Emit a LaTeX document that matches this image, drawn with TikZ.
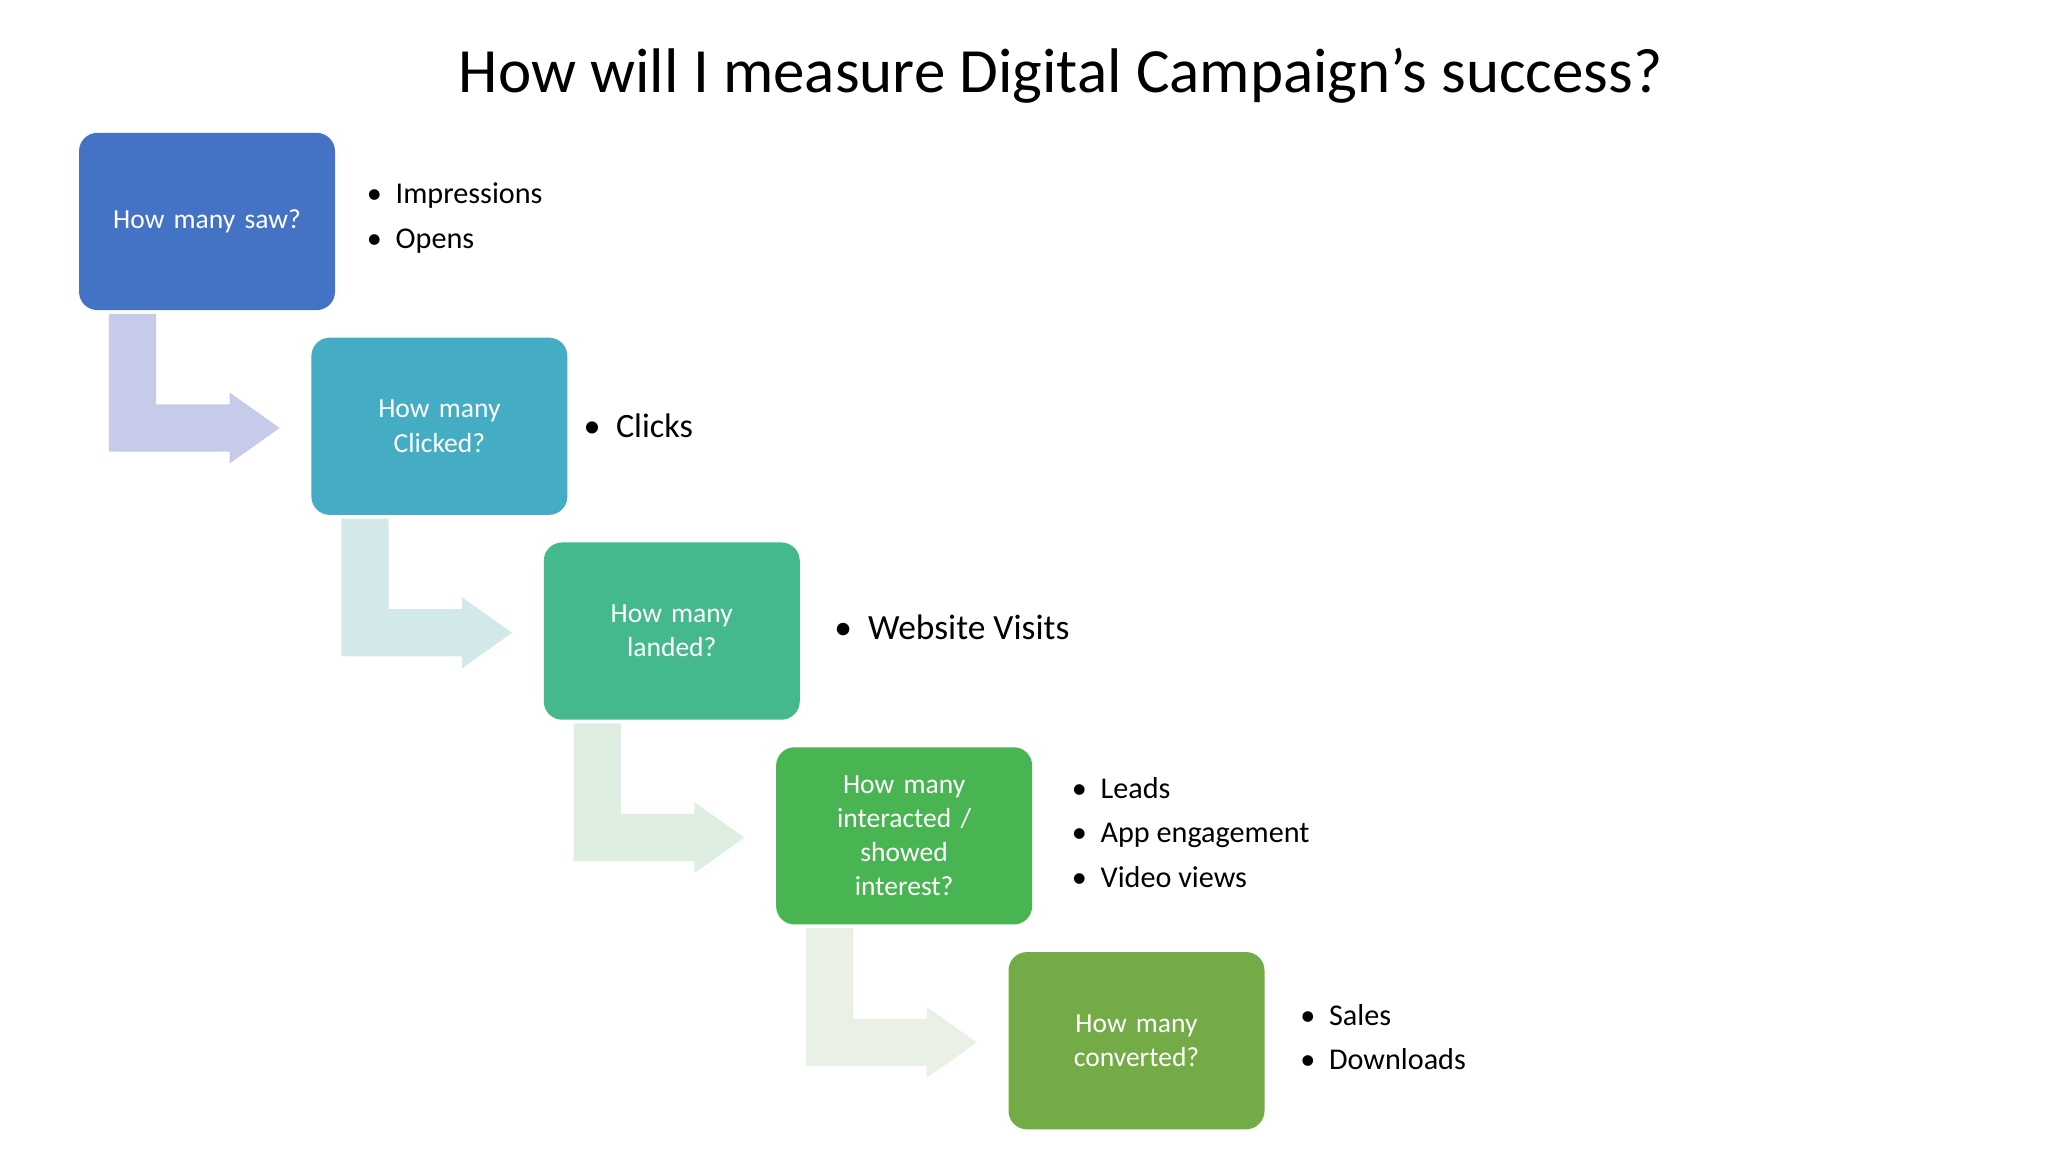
\documentclass[tikz,border=0pt]{standalone}
\usepackage{fontspec}
\setmainfont{Carlito}
\begin{document}
\begin{tikzpicture}[x=1pt,y=-1pt,
  box/.style={rounded corners=14pt,minimum width=195pt,minimum height=135pt,inner sep=0pt,text=white,font=\fontsize{21}{26}\selectfont,align=center,anchor=north west,text width=180pt},
  lst/.style={anchor=west,align=left,font=\fontsize{23}{34}\selectfont}]
\useasboundingbox (0,0) rectangle (1560,877.5);
\definecolor{c1}{HTML}{4472C4}\definecolor{c2}{HTML}{45ADC3}\definecolor{c3}{HTML}{44BA8C}
\definecolor{c4}{HTML}{48B452}\definecolor{c5}{HTML}{73AC46}
\definecolor{a1}{HTML}{C5CBE8}\definecolor{a2}{HTML}{D3E8E9}\definecolor{a3}{HTML}{DEEEE0}\definecolor{a4}{HTML}{E9F1E7}
\node[font=\fontsize{48}{56}\selectfont] (title) at (808,58) {How will I measure Digital Campaign’s success?};
\foreach \i/\c in {0/a1,1/a2,2/a3,3/a4}{
  \pgfmathsetmacro\bx{60+177*\i}\pgfmathsetmacro\by{101+156*\i}
  \fill[\c] (\bx+23,\by+138) -- (\bx+59,\by+138) -- (\bx+59,\by+207) -- (\bx+115,\by+207) -- (\bx+115,\by+198) -- (\bx+153,\by+225) -- (\bx+115,\by+252) -- (\bx+115,\by+243) -- (\bx+23,\by+243) -- cycle;
}
\node[box,fill=c1] (b1) at (60,101) {How many saw?};
\node[box,fill=c2] (b2) at (237,257) {How many\\Clicked?};
\node[box,fill=c3] (b3) at (414,413) {How many\\landed?};
\node[box,fill=c4] (b4) at (591,569) {How many\\interacted /\\showed\\interest?};
\node[box,fill=c5] (b5) at (768,725) {How many\\converted?};
\node[lst] (l1) at (276,166) {\textbullet\ \ Impressions\\\textbullet\ \ Opens};
\node[lst,font=\fontsize{26}{34}\selectfont] (l2) at (441,324) {\textbullet\ \ Clicks};
\node[lst,font=\fontsize{27}{34}\selectfont] (l3) at (632,478) {\textbullet\ \ Website Visits};
\node[lst] (l4) at (813,634) {\textbullet\ \ Leads\\\textbullet\ \ App engagement\\\textbullet\ \ Video views};
\node[lst] (l5) at (987,790) {\textbullet\ \ Sales\\\textbullet\ \ Downloads};
\end{tikzpicture}
\end{document}
